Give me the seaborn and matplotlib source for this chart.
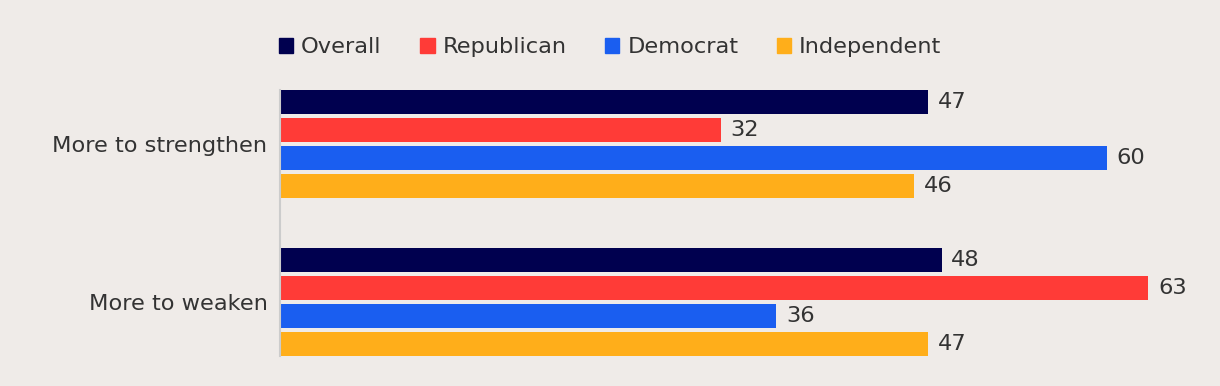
import matplotlib
matplotlib.use('Agg')
import matplotlib.pyplot as plt
import seaborn as sns
import pandas as pd

# chart data
categories = ["More to strengthen", "More to weaken"]
groups = ["Overall", "Republican", "Democrat", "Independent"]
strengthen = [47, 32, 60, 46]
weaken = [48, 63, 36, 47]

colors = ["#00004F", "#FF3B37", "#1A5EF0", "#FFAE1A"]
bg = "#EFEBE8"
text_color = "#333333"
fs = 16.2

df = pd.DataFrame({
    "category": [categories[0]] * 4 + [categories[1]] * 4,
    "group": groups * 2,
    "value": strengthen + weaken,
})

sns.set_theme(style="white")
plt.rcParams['font.family'] = ['DejaVu Sans']

fig = plt.figure(figsize=(12.2, 3.86), dpi=100, facecolor=bg)
# axes placed in pixels: left 280, top 90, bottom 356
ax = fig.add_axes([280 / 1220, 1 - 356 / 386, 940 / 1220, 266 / 386])
ax.set_facecolor(bg)

sns.barplot(data=df, y="category", x="value", hue="group", hue_order=groups,
            order=categories, palette=colors, orient="h", width=0.709, gap=0.143,
            saturation=1, linewidth=0, ax=ax, legend=False)

for cont in ax.containers:
    ax.bar_label(cont, padding=7, fontsize=fs, color=text_color)

ax.set_xlim(0, 68.2)
ax.set_ylim(1.342, -0.342)
ax.set_xlabel("")
ax.set_ylabel("")
ax.set_xticks([])
ax.tick_params(axis="y", length=0, pad=9, labelsize=fs, labelcolor=text_color)

for side in ["top", "right", "bottom"]:
    ax.spines[side].set_visible(False)
ax.spines["left"].set_color("#CCCCCC")
ax.spines["left"].set_linewidth(1.5)

handles = [plt.Rectangle((0, 0), 1, 1, color=c) for c in colors]
leg = fig.legend(handles, groups, loc="center", bbox_to_anchor=(610 / 1220, 1 - 47 / 386),
                 ncol=4, frameon=False, fontsize=fs, handlelength=0.65, handleheight=0.65,
                 handletextpad=0.35, columnspacing=1.7)
for t in leg.get_texts():
    t.set_color(text_color)

fig.savefig("out.png", dpi=100, facecolor=bg)
